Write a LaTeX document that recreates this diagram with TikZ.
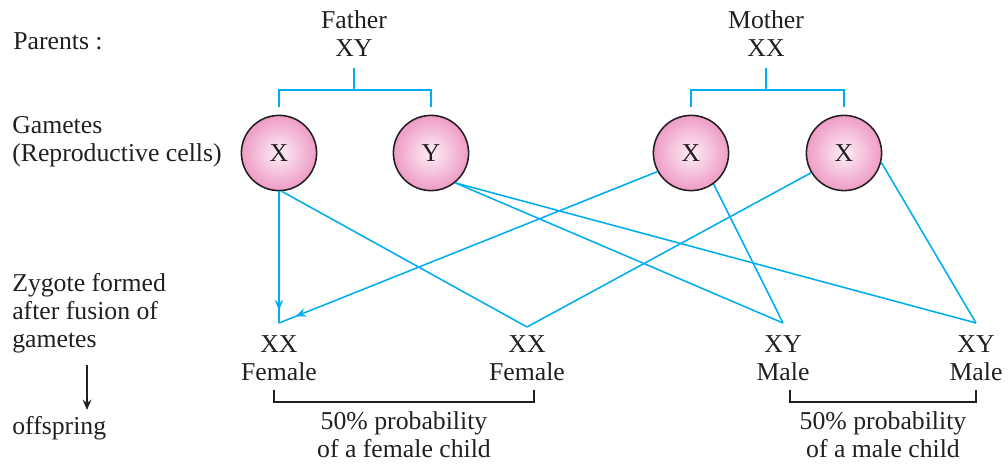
\documentclass[tikz,border=0pt]{standalone}
\usepackage{fontspec}
\setmainfont{Liberation Serif}
\usepackage{tikz}
\usetikzlibrary{arrows.meta, decorations.markings}
\definecolor{ink}{HTML}{231F20}
\definecolor{link}{HTML}{00AEEF}
\definecolor{cellin}{HTML}{FDEEF5}
\definecolor{cellout}{HTML}{EE9CC5}
\begin{document}
\begin{tikzpicture}[
  x=0.025cm, y=-0.025cm,
  every node/.style={font=\fontsize{18.3}{20}\selectfont, text=ink, inner sep=0pt},
  lbl/.style={anchor=base west, align=left},
  ctr/.style={anchor=base, align=center},
  gamete/.style={
    circle, draw=ink, line width=1.1pt, minimum size=1.88cm,
    shading=radial, inner color=cellin, outer color=cellout
  },
  link/.style={draw=link, color=link, line width=1.1pt},
  pair/.style={draw=ink, line width=1pt},
  tipmark/.style={postaction={decorate, decoration={markings,
    mark=at position #1 with {\arrow{Stealth[length=2.6mm, width=2.2mm, inset=0.9mm]}}}}},
]
\useasboundingbox (0,0) rectangle (1008,464);
\node[lbl] (parents) at (13,50)  {Parents :};
\node[lbl] (gam)     at (12,162) {Gametes\\(Reproductive cells)};
\node[lbl] (zyg)     at (12,348) {Zygote formed\\after fusion of\\gametes};
\node[lbl] (off)     at (12,435) {offspring};
\node[ctr] (father)  at (354,57) {Father\\XY};
\node[ctr] (mother)  at (766,57) {Mother\\XX};
\node[gamete] (fx)  at (279,153) {X};
\node[gamete] (fy)  at (431,153) {Y};
\node[gamete] (mx1) at (691,153) {X};
\node[gamete] (mx2) at (844,153) {X};
\coordinate (fjoin) at (354,90);
\coordinate (mjoin) at (766,90);
\coordinate (z1) at (279,323);
\coordinate (z2) at (527,327);
\coordinate (z3) at (783,323);
\coordinate (z4) at (976,323);
\node[ctr] (c1) at (279,381) {XX\\Female};
\node[ctr] (c2) at (527,381) {XX\\Female};
\node[ctr] (c3) at (783,381) {XY\\Male};
\node[ctr] (c4) at (976,381) {XY\\Male};
\node[ctr] (pf) at (404,458) {50\% probability\\of a female child};
\node[ctr] (pm) at (883,458) {50\% probability\\of a male child};
\draw[link] (fjoin) -- ++(0,-22);
\draw[link] ([yshift=0.2cm]fx.north) |- (fjoin) -| ([yshift=0.2cm]fy.north);
\draw[link] (mjoin) -- ++(0,-22);
\draw[link] ([yshift=0.2cm]mx1.north) |- (mjoin) -| ([yshift=0.2cm]mx2.north);
\draw[link, tipmark=-0.32cm] (fx.south) -- (z1);
\draw[link, tipmark=-0.45cm] (mx1.-151) -- (z1);
\draw[link] (fx.-86) -- (z2);
\draw[link] (mx2.-149) -- (z2);
\draw[link] (fy.-51) -- (z3);
\draw[link] (mx1.-54) -- (z3);
\draw[link] (fy.-51) -- (z4);
\draw[link] (mx2.-14) -- (z4);
\draw[pair] (274,390) -- (274,402) -- (534,402) -- (534,390);
\draw[pair] (790,390) -- (790,402) -- (976,402) -- (976,390);
\draw[pair, -{Stealth[length=2.6mm, width=2.2mm, inset=0.9mm]}] (87,365) -- (87,410);
\end{tikzpicture}
\end{document}
